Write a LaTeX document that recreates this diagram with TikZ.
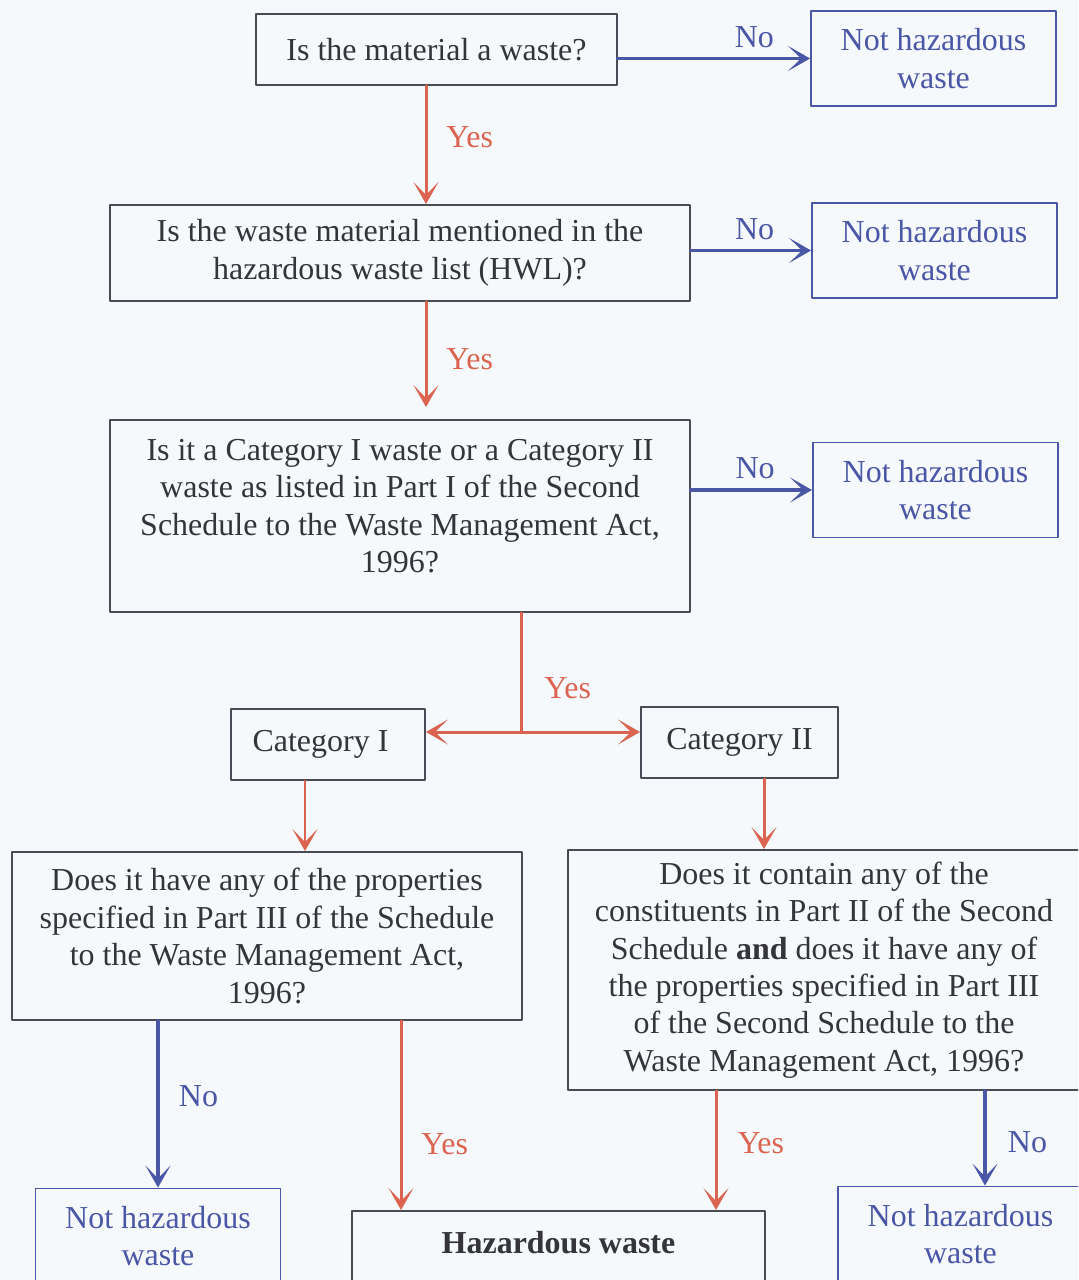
\documentclass[tikz,border=0pt]{standalone}
\usepackage{fontspec}
\setmainfont{Liberation Serif}
\usetikzlibrary{arrows.meta,positioning,calc}
\definecolor{noblue}{HTML}{4A56A6}
\definecolor{yesred}{HTML}{DA6450}
\definecolor{boxgray}{HTML}{4A4C55}
\definecolor{txtgray}{HTML}{34343A}
\definecolor{paper}{HTML}{F6F9FC}
\tikzset{
  qbox/.style={rectangle,draw=boxgray,line width=1.1pt,align=center,
               text=txtgray,inner sep=0pt},
  nbox/.style={qbox,draw=noblue,text=noblue,minimum width=4.9cm,
               minimum height=1.9cm},
  tip/.style={-{Stealth[length=0.44cm,width=0.5cm,inset=0.26cm]}},
  yesline/.style={draw=yesred,line width=1.7pt},
  noline/.style={draw=noblue,line width=2.2pt},
  yeslbl/.style={text=yesred,inner sep=0pt},
  nolbl/.style={text=noblue,inner sep=0pt},
  every picture/.style={line cap=round,line join=round}}

\begin{document}
\begin{tikzpicture}[x=0.02cm,y=-0.02cm,font=\fontsize{18.2}{21.3}\selectfont]
  \clip (0,0) rectangle (1078,1280);
  \fill[paper] (0,0) rectangle (1078,1280);
  % questions
  \node[qbox,minimum width=7.22cm,minimum height=1.42cm] (isw) at (436.5,49.5)
    {Is the material a waste?};
  \node[qbox,minimum width=11.6cm,minimum height=1.92cm] (hwl) at (400,253)
    {Is the waste material mentioned in the\\hazardous waste list (HWL)?};
  \node[qbox,minimum width=11.6cm,minimum height=3.84cm] (cat) at (400,516)
    {Is it a Category I waste or a Category II\\waste as listed in Part I of the Second\\
     Schedule to the Waste Management Act,\\1996?\\[-10pt]\mbox{}};
  \node[qbox,minimum width=3.88cm,minimum height=1.42cm] (c1) at (328,744.5)
    {Category I\hspace*{0.3cm}};
  \node[qbox,minimum width=3.94cm,minimum height=1.42cm] (c2) at (739.5,742.5) {Category II};
  \node[qbox,minimum width=10.2cm,minimum height=3.36cm] (prop) at (267,936)
    {Does it have any of the properties\\specified in Part III of the Schedule\\
     to the Waste Management Act,\\1996?};
  \node[qbox,minimum width=10.24cm,minimum height=4.8cm] (cons) at (824,970)
    {Does it contain any of the\\constituents in Part II of the Second\\
     Schedule \textbf{and} does it have any of\\the properties specified in Part III\\
     of the Second Schedule to the\\Waste Management Act, 1996?};
  \node[qbox,minimum width=8.26cm,minimum height=2cm,anchor=north] (haz) at (558.5,1210)
    {\textbf{Hazardous waste}\\\mbox{}};
  % answers
  \node[nbox] (nh1) at (933.5,58.5) {Not hazardous\\waste};
  \node[nbox] (nh2) at (934.5,250.5) {Not hazardous\\waste};
  \node[nbox] (nh3) at (935.5,490) {Not hazardous\\waste};
  \node[nbox] (nh4) at (158,1236) {Not hazardous\\waste};
  \node[nbox] (nh5) at (960.5,1234) {Not hazardous\\waste};
  % line positions
  \coordinate (xa) at (426,0);
  \coordinate (split) at (521,732);
  \coordinate (xc1) at (305,0); \coordinate (xc2) at (764,0);
  \coordinate (xh1) at (401,0); \coordinate (xh2) at (716,0);
  \coordinate (xn5) at (985,0);
  % connectors
  \draw[noline,tip] (isw.east |- nh1) -- node[nolbl,pos=0.71,above=0.18cm]{No} (nh1.west);
  \draw[noline,tip] (hwl.east |- nh2) -- node[nolbl,pos=0.53,above=0.18cm]{No} (nh2.west);
  \draw[noline,tip] (cat.east |- nh3) -- node[nolbl,pos=0.53,above=0.18cm]{No} (nh3.west);
  \draw[yesline,tip] (isw.south -| xa) -- node[yeslbl,pos=0.43,right=0.38cm]{Yes} (hwl.north -| xa);
  \draw[yesline,tip,shorten >=0.24cm] (hwl.south -| xa) -- node[yeslbl,pos=0.49,right=0.38cm]{Yes} (cat.north -| xa);
  \draw[yesline] (cat.south -| split) -- node[yeslbl,pos=0.63,right=0.44cm]{Yes} (split);
  \draw[yesline,tip] (split) -- (c1.east |- split);
  \draw[yesline,tip] (split) -- (c2.west |- split);
  \draw[yesline,tip] (c1.south -| xc1) -- (prop.north -| xc1);
  \draw[yesline,tip] (c2.south -| xc2) -- (cons.north -| xc2);
  \draw[noline,tip] (prop.south -| nh4) -- node[nolbl,pos=0.45,right=0.38cm]{No} (nh4.north);
  \draw[yesline,tip] (prop.south -| xh1) -- node[yeslbl,pos=0.65,right=0.38cm]{Yes} (haz.north -| xh1);
  \draw[yesline,tip] (cons.south -| xh2) -- node[yeslbl,pos=0.44,right=0.4cm]{Yes} (haz.north -| xh2);
  \draw[noline,tip] (cons.south -| xn5) -- node[nolbl,pos=0.54,right=0.42cm]{No} (nh5.north -| xn5);
\end{tikzpicture}
\end{document}
